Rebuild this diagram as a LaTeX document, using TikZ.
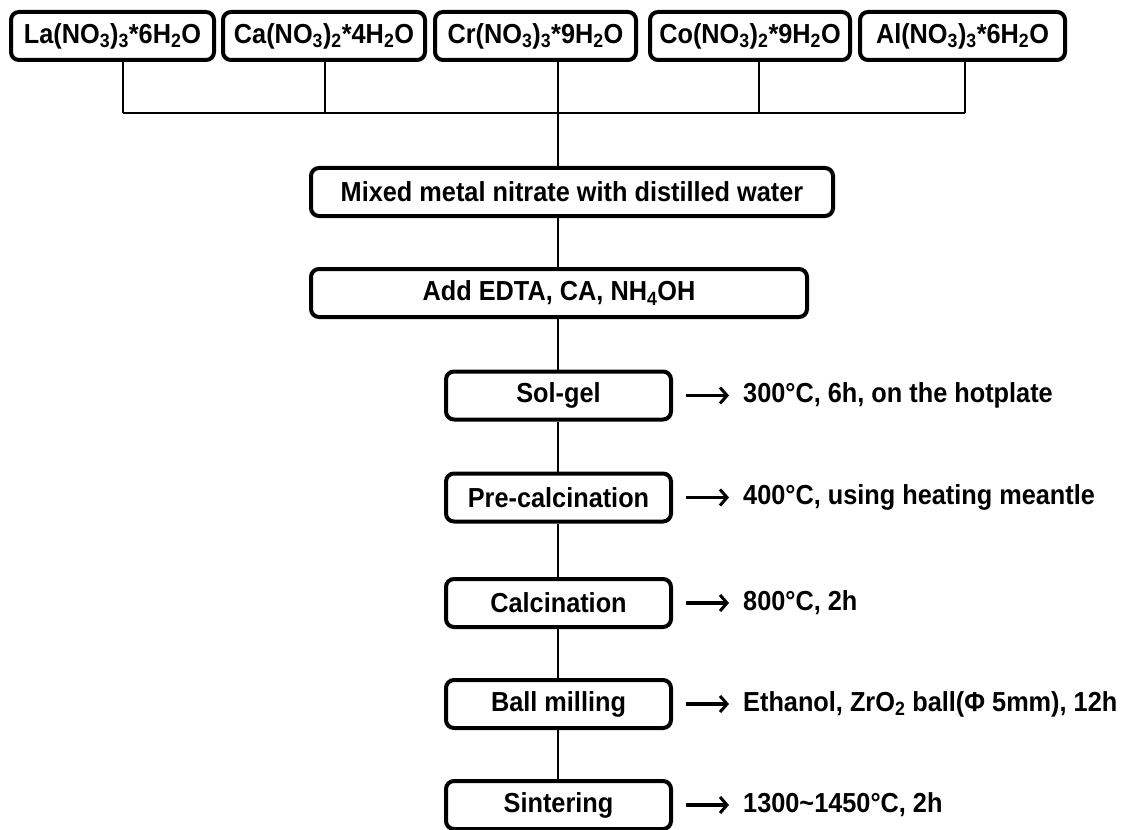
\documentclass[tikz,border=0pt]{standalone}
\usepackage{fontspec}
\setmainfont{Liberation Sans}[FakeStretch=0.92]
\usetikzlibrary{arrows.meta,calc}
\tikzset{
  txt/.style={font=\fontsize{27.5}{32}\selectfont\bfseries, text=black},
  box/.style={txt, draw=black, line width=4pt, rounded corners=8pt, fill=white,
    minimum height=48pt, inner sep=0pt},
  conn/.style={draw=black, line width=2pt},
  note/.style={txt, anchor=west, inner sep=0pt},
  arr/.style={draw=black, line width=3.2pt, -{Straight Barb[length=7pt,width=16pt,line width=3pt]}}
}
\newcommand{\sub}[1]{\textsubscript{#1}}
\begin{document}
\begin{tikzpicture}[x=1pt,y=-1pt]
\useasboundingbox[fill=white] (0,0) rectangle (1123,829);
% top reagent boxes
\node[box, minimum width=203pt] (b1) at (112.5,36) {La(NO\sub{3})\sub{3}*6H\sub{2}O};
\node[box, minimum width=202pt] (b2) at (324,36) {Ca(NO\sub{3})\sub{2}*4H\sub{2}O};
\node[box, minimum width=201pt] (b3) at (535.5,36) {Cr(NO\sub{3})\sub{3}*9H\sub{2}O};
\node[box, minimum width=200pt] (b4) at (750,36) {Co(NO\sub{3})\sub{2}*9H\sub{2}O};
\node[box, minimum width=205pt] (b5) at (962.5,36) {Al(NO\sub{3})\sub{3}*6H\sub{2}O};
% bus coordinates
\coordinate (j1) at (123,113);
\coordinate (j2) at (325,113);
\coordinate (j3) at (558,113);
\coordinate (j4) at (759,113);
\coordinate (j5) at (965,113);
% process boxes
\node[box, minimum width=522pt] (mix) at (572,192) {Mixed metal nitrate with distilled water};
\node[box, minimum width=496pt] (add) at (559,293) {Add EDTA, CA, NH\sub{4}OH};
\node[box, minimum width=225pt] (sol) at (558.5,395.5) {Sol-gel};
\node[box, minimum width=225pt] (pre) at (558.5,497.5) {Pre-calcination};
\node[box, minimum width=225pt] (cal) at (558.5,603) {Calcination};
\node[box, minimum width=225pt] (ball) at (558.5,704) {Ball milling};
\node[box, minimum width=225pt] (sin) at (558.5,805) {Sintering};
% connectors
\draw[conn] (b1.south -| j1) -- (j1);
\draw[conn] (b2.south -| j2) -- (j2);
\draw[conn] (b3.south -| j3) -- (j3);
\draw[conn] (b4.south -| j4) -- (j4);
\draw[conn] (b5.south -| j5) -- (j5);
\draw[conn] (j1) -- (j5);
\draw[conn] (j3) -- (mix.north -| j3);
\draw[conn] (mix.south -| j3) -- (add.north -| j3);
\draw[conn] (add.south -| j3) -- (sol.north -| j3);
\draw[conn] (sol.south -| j3) -- (pre.north -| j3);
\draw[conn] (pre.south -| j3) -- (cal.north -| j3);
\draw[conn] (cal.south -| j3) -- (ball.north -| j3);
\draw[conn] (ball.south -| j3) -- (sin.north -| j3);
% side notes
\foreach \n/\t in {sol/{300°C, 6h, on the hotplate},
                   pre/{400°C, using heating meantle},
                   cal/{800°C, 2h},
                   ball/{Ethanol, ZrO\sub{2} ball(Φ 5mm), 12h},
                   sin/{1300\textasciitilde1450°C, 2h}}{
  \coordinate (\n a) at ($(\n.east)+(13,0)$);
  \coordinate (\n b) at ($(\n.east)+(56,0)$);
  \draw[arr] (\n a) -- (\n b);
  \node[note] (\n t) at ($(\n.east)+(70,0)$) {\t};
}
\end{tikzpicture}
\end{document}
